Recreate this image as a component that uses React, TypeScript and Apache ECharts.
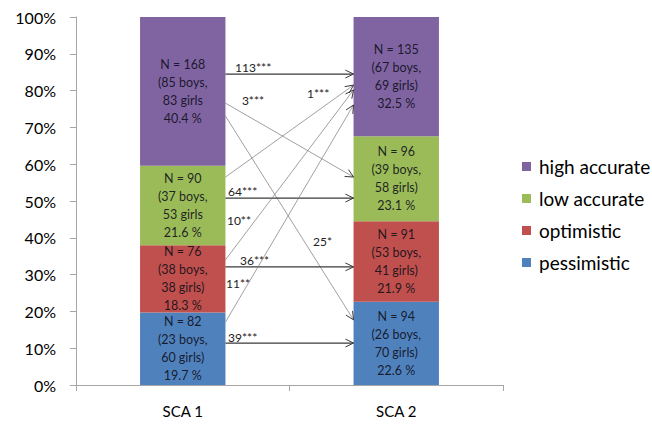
import React, { useEffect, useRef } from "react";
import * as echarts from "echarts";

const categories = ["SCA 1", "SCA 2"];
const legendOrder = ["high accurate", "low accurate", "optimistic", "pessimistic"];
const colors = ["#4F81BD", "#C0504D", "#9BBB59", "#8064A2"];

// percentages per group (bottom to top)
const pessimisticPct = [19.7, 22.6];
const optimisticPct = [18.3, 21.9];
const lowAccuratePct = [21.6, 23.1];
const highAccuratePct = [40.4, 32.5];

const pessimisticN = [82, 94];
const optimisticN = [76, 91];
const lowAccurateN = [90, 96];
const highAccurateN = [168, 135];

const pessimisticBoys = [23, 26];
const optimisticBoys = [38, 53];
const lowAccurateBoys = [37, 39];
const highAccurateBoys = [85, 67];

const pessimisticGirls = [60, 70];
const optimisticGirls = [38, 41];
const lowAccurateGirls = [53, 58];
const highAccurateGirls = [83, 69];

// whether the "girls" line ends with ")" in the original
const pessimisticClosed = [true, true];
const optimisticClosed = [true, true];
const lowAccurateClosed = [false, true];
const highAccurateClosed = [false, true];

const yTicks = [0, 10, 20, 30, 40, 50, 60, 70, 80, 90, 100];

// transitions between SCA 1 and SCA 2: from % height, to % height
const transitionLabels = ["113***", "3***", "25*", "1***", "64***", "10**", "36***", "11**", "39***"];
const transitionFrom = [84.5, 76.6, 73.1, 56.5, 50.8, 34.0, 32.1, 17.1, 11.4];
const transitionTo = [84.5, 56.5, 17.7, 81.5, 50.8, 80.2, 32.1, 76.1, 11.4];
// label anchors (x on 0..2 group scale, y in %)
const labelAnchorX = [0.745, 0.777, 1.11, 1.082, 0.712, 0.707, 0.768, 0.703, 0.712];
const labelAnchorY = [86.4, 77.2, 39.1, 79.3, 52.7, 44.8, 33.7, 27.7, 13.0];

const FONT = "Lato, 'Open Sans', sans-serif";

export default function App() {
  const ref = useRef<HTMLDivElement>(null);

  useEffect(() => {
    if (!ref.current) return;
    const chart = echarts.init(ref.current, undefined, { renderer: "svg" });

    const groups = [
      { name: "pessimistic", pct: pessimisticPct, n: pessimisticN, b: pessimisticBoys, g: pessimisticGirls, c: pessimisticClosed },
      { name: "optimistic", pct: optimisticPct, n: optimisticN, b: optimisticBoys, g: optimisticGirls, c: optimisticClosed },
      { name: "low accurate", pct: lowAccuratePct, n: lowAccurateN, b: lowAccurateBoys, g: lowAccurateGirls, c: lowAccurateClosed },
      { name: "high accurate", pct: highAccuratePct, n: highAccurateN, b: highAccurateBoys, g: highAccurateGirls, c: highAccurateClosed },
    ];

    const barSeries = groups.map((gr, si) => ({
      type: "bar",
      name: gr.name,
      stack: "total",
      barWidth: "40%",
      xAxisIndex: 0,
      yAxisIndex: 0,
      itemStyle: { color: colors[si] },
      data: gr.pct,
      label: {
        show: true,
        position: "inside",
        fontFamily: FONT,
        fontSize: 12.5,
        lineHeight: 18,
        color: "rgba(15,15,25,0.9)",
        formatter: (p: any) => {
          const i = p.dataIndex;
          return `N = ${gr.n[i]}\n(${gr.b[i]} boys,\n${gr.g[i]} girls${gr.c[i] ? ")" : ""}\n${gr.pct[i].toFixed(1)} %`;
        },
      },
    }));

    const transitionData = transitionFrom.map((f, i) => [0.7, f, 1.3, transitionTo[i], labelAnchorX[i], labelAnchorY[i]]);

    const arrowSeries = {
      type: "custom",
      xAxisIndex: 1,
      yAxisIndex: 0,
      z: 10,
      silent: true,
      encode: { x: [0, 2, 4], y: [1, 3, 5] },
      data: transitionData,
      renderItem: (params: any, api: any) => {
        const p1 = api.coord([api.value(0), api.value(1)]);
        const p2 = api.coord([api.value(2), api.value(3)]);
        const lp = api.coord([api.value(4), api.value(5)]);
        const horizontal = Math.abs(api.value(1) - api.value(3)) < 0.01;
        const stroke = horizontal ? "#3a3a3a" : "#808080";
        const lw = horizontal ? 1.2 : 0.75;
        const ang = Math.atan2(p2[1] - p1[1], p2[0] - p1[0]);
        const L = 9;
        const spread = 0.45;
        const a1 = [p2[0] - L * Math.cos(ang - spread), p2[1] - L * Math.sin(ang - spread)];
        const a2 = [p2[0] - L * Math.cos(ang + spread), p2[1] - L * Math.sin(ang + spread)];
        return {
          type: "group",
          children: [
            {
              type: "line",
              shape: { x1: p1[0], y1: p1[1], x2: p2[0], y2: p2[1] },
              style: { stroke, lineWidth: lw },
            },
            {
              type: "polyline",
              shape: { points: [a1, p2, a2] },
              style: { stroke: "#3a3a3a", lineWidth: 1, fill: "none" },
            },
            {
              type: "text",
              x: lp[0],
              y: lp[1],
              style: {
                text: transitionLabels[params.dataIndex],
                fill: "#222",
                fontFamily: FONT,
                fontSize: 12,
                align: "left",
                verticalAlign: "middle",
              },
            },
          ],
        };
      },
    };

    chart.setOption({
      animation: false,
      backgroundColor: "#ffffff",
      grid: { left: 76, right: 149, top: 17, bottom: 39 },
      legend: {
        data: legendOrder,
        orient: "vertical",
        left: 522,
        top: 157,
        padding: 0,
        itemWidth: 9,
        itemHeight: 9,
        itemGap: 13,
        icon: "rect",
        textStyle: { fontFamily: FONT, fontSize: 19, color: "#000", lineHeight: 19, padding: [0, 0, 0, 3] },
      },
      xAxis: [
        {
          type: "category",
          data: categories,
          axisLine: { lineStyle: { color: "#a6a6a6" } },
          axisTick: { show: true, length: 6, lineStyle: { color: "#a6a6a6" } },
          axisLabel: { fontFamily: FONT, fontSize: 15, color: "#000", margin: 18 },
        },
        {
          type: "value",
          min: 0,
          max: 2,
          show: false,
        },
      ],
      yAxis: [
        {
          type: "value",
          min: yTicks[0],
          max: yTicks[yTicks.length - 1],
          interval: 10,
          axisLine: { show: true, lineStyle: { color: "#a6a6a6" } },
          axisTick: { show: true, length: 6, lineStyle: { color: "#a6a6a6" } },
          splitLine: { show: false },
          axisLabel: { fontFamily: FONT, fontSize: 16, color: "#000", margin: 20, formatter: "{value}%" },
        },
      ],
      series: [...barSeries, arrowSeries],
    });

    return () => chart.dispose();
  }, []);

  return (
    <div
      ref={ref}
      style={{ position: "fixed", left: 0, top: 0, width: 652, height: 424, background: "#fff" }}
    />
  );
}
